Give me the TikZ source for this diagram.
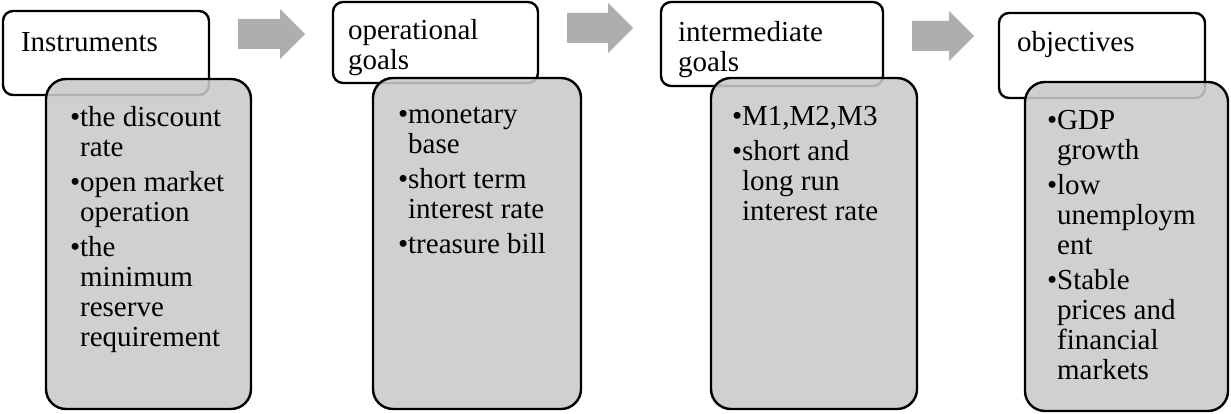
\documentclass[tikz,border=0pt]{standalone}
\usepackage{fontspec}
\setmainfont{Liberation Serif}
\definecolor{listgray}{RGB}{201,201,201}
\definecolor{arrowgray}{RGB}{174,174,174}
% bullet at the start of an item, and the matching indent for its continuation lines
\newcommand\bitem{\textbullet}
\newcommand\bcont{\hphantom{\textbullet}}
% grey block arrow: left end, centre line, shaft length
\newcommand\blockarrow[3]{%
  \fill[arrowgray] (#1,#2-15) -- ++(#3,0) -- ++(0,-10) -- ++(25,25)
    -- ++(-25,25) -- ++(0,-10) -- ++(-#3,0) -- cycle;}
\begin{document}
\begin{tikzpicture}[x=1pt,y=-1pt,
  every node/.style={inner sep=0pt,outer sep=0pt},
  headbox/.style={draw=black,line width=2.4pt,fill=white,rounded corners=10pt},
  listbox/.style={draw=black,line width=2.4pt,fill=listgray,fill opacity=0.88,
    draw opacity=1,rounded corners=20pt},
  % multi-line nodes are placed by the baseline of their last line
  headtext/.style={font=\fontsize{29}{30}\selectfont,align=left,anchor=base west},
  listtext/.style={font=\fontsize{29}{30}\selectfont,align=left,anchor=base west}]
\useasboundingbox (0,0) rectangle (1231,414);

% title boxes
\node[headbox,minimum width=206,minimum height=84] (w1) at (106,53) {};
\node[headbox,minimum width=205,minimum height=81] (w2) at (435.5,42.5) {};
\node[headbox,minimum width=222,minimum height=84] (w3) at (772,44) {};
\node[headbox,minimum width=206,minimum height=85] (w4) at (1102,55.5) {};

% list boxes, laid over the lower right of each title box
\node[listbox,minimum width=205,minimum height=330] (g1) at (148.5,244) {};
\node[listbox,minimum width=208,minimum height=331] (g2) at (477,243.5) {};
\node[listbox,minimum width=206,minimum height=331] (g3) at (814,243.5) {};
\node[listbox,minimum width=203,minimum height=329] (g4) at (1126.5,246.5) {};

% titles
\node[headtext] (t1) at (21,52) {Instruments};
\node[headtext] (t2) at (348,70) {operational\\goals};
\node[headtext] (t3) at (678,72) {intermediate\\goals};
\node[headtext] (t4) at (1017,52) {objectives};

% lists
\node[listtext] (l1) at (70,346) {\bitem the discount\\\bcont rate\\[5pt]
  \bitem open market\\\bcont operation\\[5pt]
  \bitem the\\\bcont minimum\\\bcont reserve\\\bcont requirement};
\node[listtext] (l2) at (398,253) {\bitem monetary\\\bcont base\\[5pt]
  \bitem short term\\\bcont interest rate\\[5pt]
  \bitem treasure bill};
\node[listtext] (l3) at (732,221) {\bitem M1,M2,M3\\[5pt]
  \bitem short and\\\bcont long run\\\bcont interest rate};
\node[listtext] (l4) at (1047,379) {\bitem GDP\\\bcont growth\\[5pt]
  \bitem low\\\bcont unemploym\\\bcont ent\\[5pt]
  \bitem Stable\\\bcont prices and\\\bcont financial\\\bcont markets};

% arrows between the stages
\blockarrow{238}{34}{42}
\blockarrow{567}{28}{41}
\blockarrow{912}{36}{37}
\end{tikzpicture}
\end{document}
